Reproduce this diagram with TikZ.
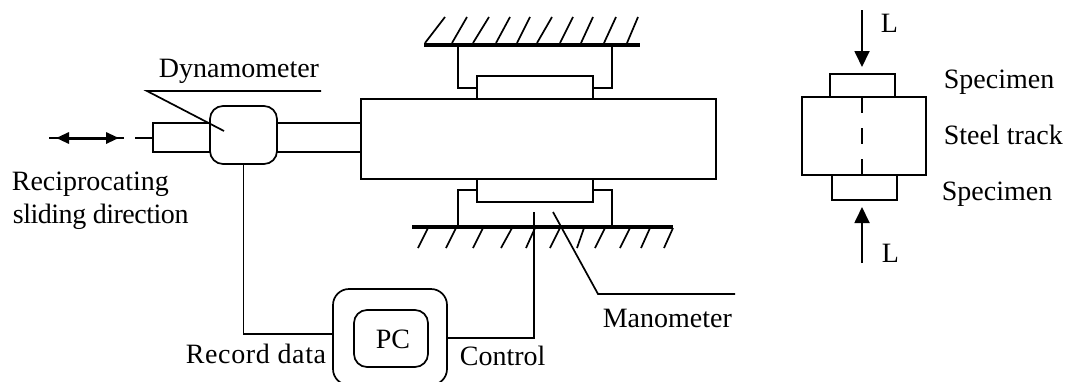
\documentclass[tikz,border=0pt]{standalone}
\usepackage{fontspec}
\setmainfont{Liberation Serif}
\usetikzlibrary{arrows.meta}
\tikzset{
  part/.style={draw, inner sep=0pt, outer sep=0pt},
  lab/.style={anchor=base west, inner sep=0pt, font=\fontsize{28}{30}\selectfont},
  wall/.style={line width=3.4pt},
  force/.style={line width=1.8pt, -{Triangle[length=16pt,width=15pt]}}
}
\begin{document}
\begin{tikzpicture}[x=1pt,y=-1pt,line width=1.7pt]
\useasboundingbox (0,0) rectangle (1065,381);
\clip (0,0) rectangle (1065,381);
% slider and fixture
\node[part,minimum width=355pt,minimum height=80pt] (track) at (538.5,139) {};
\node[part,minimum width=116pt,minimum height=23pt] (padtop) at (535,87.5) {};
\node[part,minimum width=116pt,minimum height=23pt] (padlow) at (535,190.5) {};
\node[part,minimum width=57pt,minimum height=29pt] (rod) at (181.5,137.5) {};
\node[part,rounded corners=13pt,fill=white,minimum width=67pt,minimum height=58pt] (dyno) at (243.5,135) {};
\draw (dyno.east |- 0,123) -- (track.west |- 0,123);
\draw (dyno.east |- 0,152) -- (track.west |- 0,152);
% walls
\coordinate (walltopa) at (424,45);
\coordinate (walltopb) at (640,45);
\coordinate (walllowa) at (412,227);
\coordinate (walllowb) at (673,227);
\draw[wall] (walltopa) -- (walltopb);
\draw[wall] (walllowa) -- (walllowb);
\foreach \xa/\xb in {425/445,452/467,473/489,496/510,517/530,537/552,560/573,581/593,604/616,627/638}
  \draw (\xa,43) -- (\xb,17);
\foreach \xa/\xb in {418/428,446/456,473/483,501/512,526/535,550/560,577/584,595/605,620/630,641/650,664/673}
  \draw (\xa,248) -- (\xb,228);
\draw (458,45) |- (padtop.west |- 0,88);
\draw (612,45) |- (padtop.east |- 0,88);
\draw (458,227) |- (padlow.west |- 0,190);
\draw (612,227) |- (padlow.east |- 0,190);
% pc
\node[part,rounded corners=16pt,minimum width=114pt,minimum height=96pt] (pcbox) at (390,337) {};
\node[part,rounded corners=13pt,minimum width=74pt,minimum height=57pt] (pc) at (391,338.5) {};
\node[lab,anchor=base] (pclabel) at (393,348) {PC};
\coordinate (recin) at (333,334);
\coordinate (ctrlout) at (447,338);
\coordinate (ctrltop) at (534,212);
\draw (dyno.south) |- (recin);
\draw (ctrlout) -| (ctrltop);
% sliding direction
\coordinate (dira) at (49,138);
\coordinate (dirb) at (124,138);
\coordinate (tipa) at (56,138);
\coordinate (tipb) at (119,138);
\coordinate (stub) at (135,138);
\draw (dira) -- (dirb);
\draw[line width=3pt,{Triangle[length=13pt,width=11pt]}-{Triangle[length=13pt,width=11pt]}] (tipa) -- (tipb);
\draw (stub) -- (rod.west |- stub);
% leaders
\coordinate (dynoa) at (147,91);
\coordinate (dynob) at (321,91);
\coordinate (dynoc) at (224,131);
\draw (dynob) -- (dynoa) -- (dynoc);
\coordinate (mana) at (553,212);
\coordinate (manb) at (598,294);
\coordinate (manc) at (735,294);
\draw (mana) -- (manb) -- (manc);
% labels
\node[lab] (dynolabel) at (158,77) {Dynamometer};
\node[lab] (recip) at (11,190) {Reciprocating};
\node[lab] (slide) at (12,223) {\addfontfeature{LetterSpace=-1.7}sliding direction};
\node[lab] (record) at (185,363) {\addfontfeature{LetterSpace=2.3}Record data};
\node[lab] (control) at (459,365) {Control};
\node[lab] (mano) at (602,327) {Manometer};
% contact detail
\node[part,minimum width=65pt,minimum height=23pt] (spectop) at (862.5,85.5) {};
\node[part,minimum width=124pt,minimum height=78pt] (steel) at (864,136) {};
\node[part,minimum width=65pt,minimum height=25pt] (speclow) at (864.5,187.5) {};
\coordinate (loada) at (862,10);
\coordinate (loadb) at (862,67);
\coordinate (loadc) at (862,263);
\coordinate (loadd) at (862,207);
\draw[force] (loada) -- (loadb);
\draw[force] (loadc) -- (loadd);
\coordinate (axisa) at (862,97);
\coordinate (axisb) at (862,175);
\draw[dash pattern=on 16pt off 15pt] (axisa) -- (axisb);
\node[lab] (loadtop) at (880,32) {L};
\node[lab] (loadlow) at (881,262) {L};
\node[lab] (spectoplabel) at (943,88) {Specimen};
\node[lab] (steellabel) at (943,144) {Steel track};
\node[lab] (speclowlabel) at (941,200) {Specimen};
\end{tikzpicture}
\end{document}
